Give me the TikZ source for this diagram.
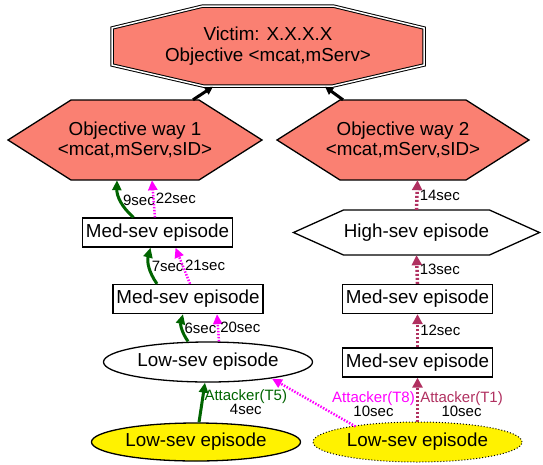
\documentclass[tikz,border=0pt]{standalone}
\usepackage{fontspec}
\setmainfont{Liberation Sans}
\usetikzlibrary{shapes.geometric,arrows.meta,backgrounds}
\definecolor{salmon}{HTML}{FA8072}
\definecolor{dgreen}{HTML}{006400}
\definecolor{maroon}{HTML}{B03060}
\definecolor{pink}{HTML}{FF00FF}

\begin{document}
\begin{tikzpicture}[x=1pt, y=-1pt]
        \tikzstyle{txt}=[font=\fontsize{18.8}{20.5}\selectfont, align=center, inner sep=0pt]
        \tikzstyle{goal}=[txt, minimum width=254, minimum height=80]
        \tikzstyle{medsev}=[txt, draw, line width=1.3pt, minimum width=150, minimum height=29]
        \tikzstyle{lowsev}=[txt, draw, ellipse, line width=1.3pt, minimum width=209, minimum height=40]
        \tikzstyle{lbl}=[font=\fontsize{15}{14}\selectfont, inner sep=1pt, align=center]
        \tikzstyle{gedge}=[draw=dgreen, line width=3pt, -{Triangle[length=10pt,width=9pt]}]
        \tikzstyle{medge}=[draw=pink, line width=2.5pt, dash pattern=on 1.5pt off 1.5pt, -{Triangle[length=10pt,width=9pt]}]
        \tikzstyle{redge}=[draw=maroon, line width=3.5pt, dash pattern=on 2pt off 2pt, -{Triangle[length=10pt,width=10pt]}]
        \tikzstyle{bedge}=[draw=black, line width=3pt, -{Triangle[length=8pt,width=8pt]}]

        \useasboundingbox (0,0) rectangle (543,464);

        \node[txt, minimum width=313, minimum height=81] (V) at (268,46) {Victim: X.X.X.X\\Objective <mcat,mServ>};
        \node[goal] (W_1) at (135,140) {Objective way 1\\<mcat,mServ,sID>};
        \node[goal] (W_2) at (403,140) {Objective way 2\\<mcat,mServ,sID>};
        \node[medsev] (M_1) at (157.5,232.5) {Med-sev episode};
        \node[medsev] (M_2) at (188,299) {Med-sev episode};
        \node[lowsev] (L_1) at (208,362) {Low-sev episode};
        \node[lowsev, fill=yellow, minimum height=38] (Y_1) at (196,442) {Low-sev episode};
        \node[lowsev, fill=yellow, line width=1pt, dotted] (Y_2) at (417.5,442) {Low-sev episode};
        \node[txt, minimum width=246, minimum height=45] (H_1) at (416.5,232.5) {High-sev episode};
        \node[medsev] (R_1) at (417.5,299) {Med-sev episode};
        \node[medsev] (R_2) at (417.5,362.5) {Med-sev episode};

        % outlines of the polygon nodes
        \begin{scope}[on background layer]
            \draw[fill=salmon, line width=1pt, double, double distance=1.5pt, shift={(V.center)}]
                (-65,-40) -- (65,-40) -- (156,-18) -- (156,19) -- (65,40) -- (-65,40) -- (-156,19) -- (-156,-18) -- cycle;
            \draw[fill=salmon, line width=1.3pt, shift={(W_1.center)}]
                (-127,0) -- (-64,-40) -- (64,-40) -- (127,0) -- (64,40) -- (-64,40) -- cycle;
            \draw[fill=salmon, line width=1.3pt, shift={(W_2.center)}]
                (-126,0) -- (-63,-40) -- (63,-40) -- (126,0) -- (63,40) -- (-63,40) -- cycle;
            \draw[fill=white, line width=1.3pt, shift={(H_1.center)}]
                (-123,0) -- (-73,-22.5) -- (73,-22.5) -- (123,0) -- (73,22.5) -- (-73,22.5) -- cycle;
        \end{scope}

        \draw[bedge] ([xshift=58]W_1.north) -- ([xshift=-55]V.south);
        \draw[bedge] ([xshift=-60]W_2.north) -- ([xshift=57]V.south);

        \draw[gedge] ([xshift=3]Y_1.north) -- ([xshift=-3]L_1.south) node[lbl, midway, right, text=dgreen] (t_5) {Attacker(T5)\\\textcolor{black}{4sec}};
        \draw[gedge] ([xshift=-20]L_1.north) to[bend left=25] node[lbl, midway, right] (t_6) {6sec} ([xshift=-5]M_2.south);
        \draw[gedge] ([xshift=-31]M_2.north) to[bend left=25] node[lbl, midway, right] (t_7) {7sec} ([xshift=-7]M_1.south);
        \draw[gedge] ([xshift=-24]M_1.north) to[bend left=25] node[lbl, midway, right] (t_9) {9sec} ([xshift=-18]W_1.south);

        \draw[medge] ([xshift=11]L_1.north) -- ([xshift=29]M_2.south) node[lbl, midway, right] (t_20) {20sec};
        \draw[medge] ([xshift=2]M_2.north) -- ([xshift=18]M_1.south) node[lbl, midway, right] (t_21) {21sec};
        \draw[medge] ([xshift=-2.5]M_1.north) -- ([xshift=17]W_1.south) node[lbl, midway, right] (t_22) {22sec};
        \draw[medge] ([xshift=-62,yshift=-5]Y_2.north) -- ([xshift=64,yshift=4]L_1.south);

        \draw[redge] (Y_2) -- (R_2)
            node[lbl, pos=0.4, right, text=maroon] (t_1) {Attacker(T1)\\\textcolor{black}{10sec}}
            node[lbl, pos=0.4, left, text=pink] (t_8) {Attacker(T8)\\\textcolor{black}{10sec}};
        \draw[redge] (R_2) -- (R_1) node[lbl, midway, right] (t_12) {12sec};
        \draw[redge] (R_1.north) -- (H_1.south) node[lbl, midway, right] (t_13) {13sec};
        \draw[redge] (H_1.north) -- ([xshift=14.5]W_2.south) node[lbl, midway, right] (t_14) {14sec};
\end{tikzpicture}
\end{document}
